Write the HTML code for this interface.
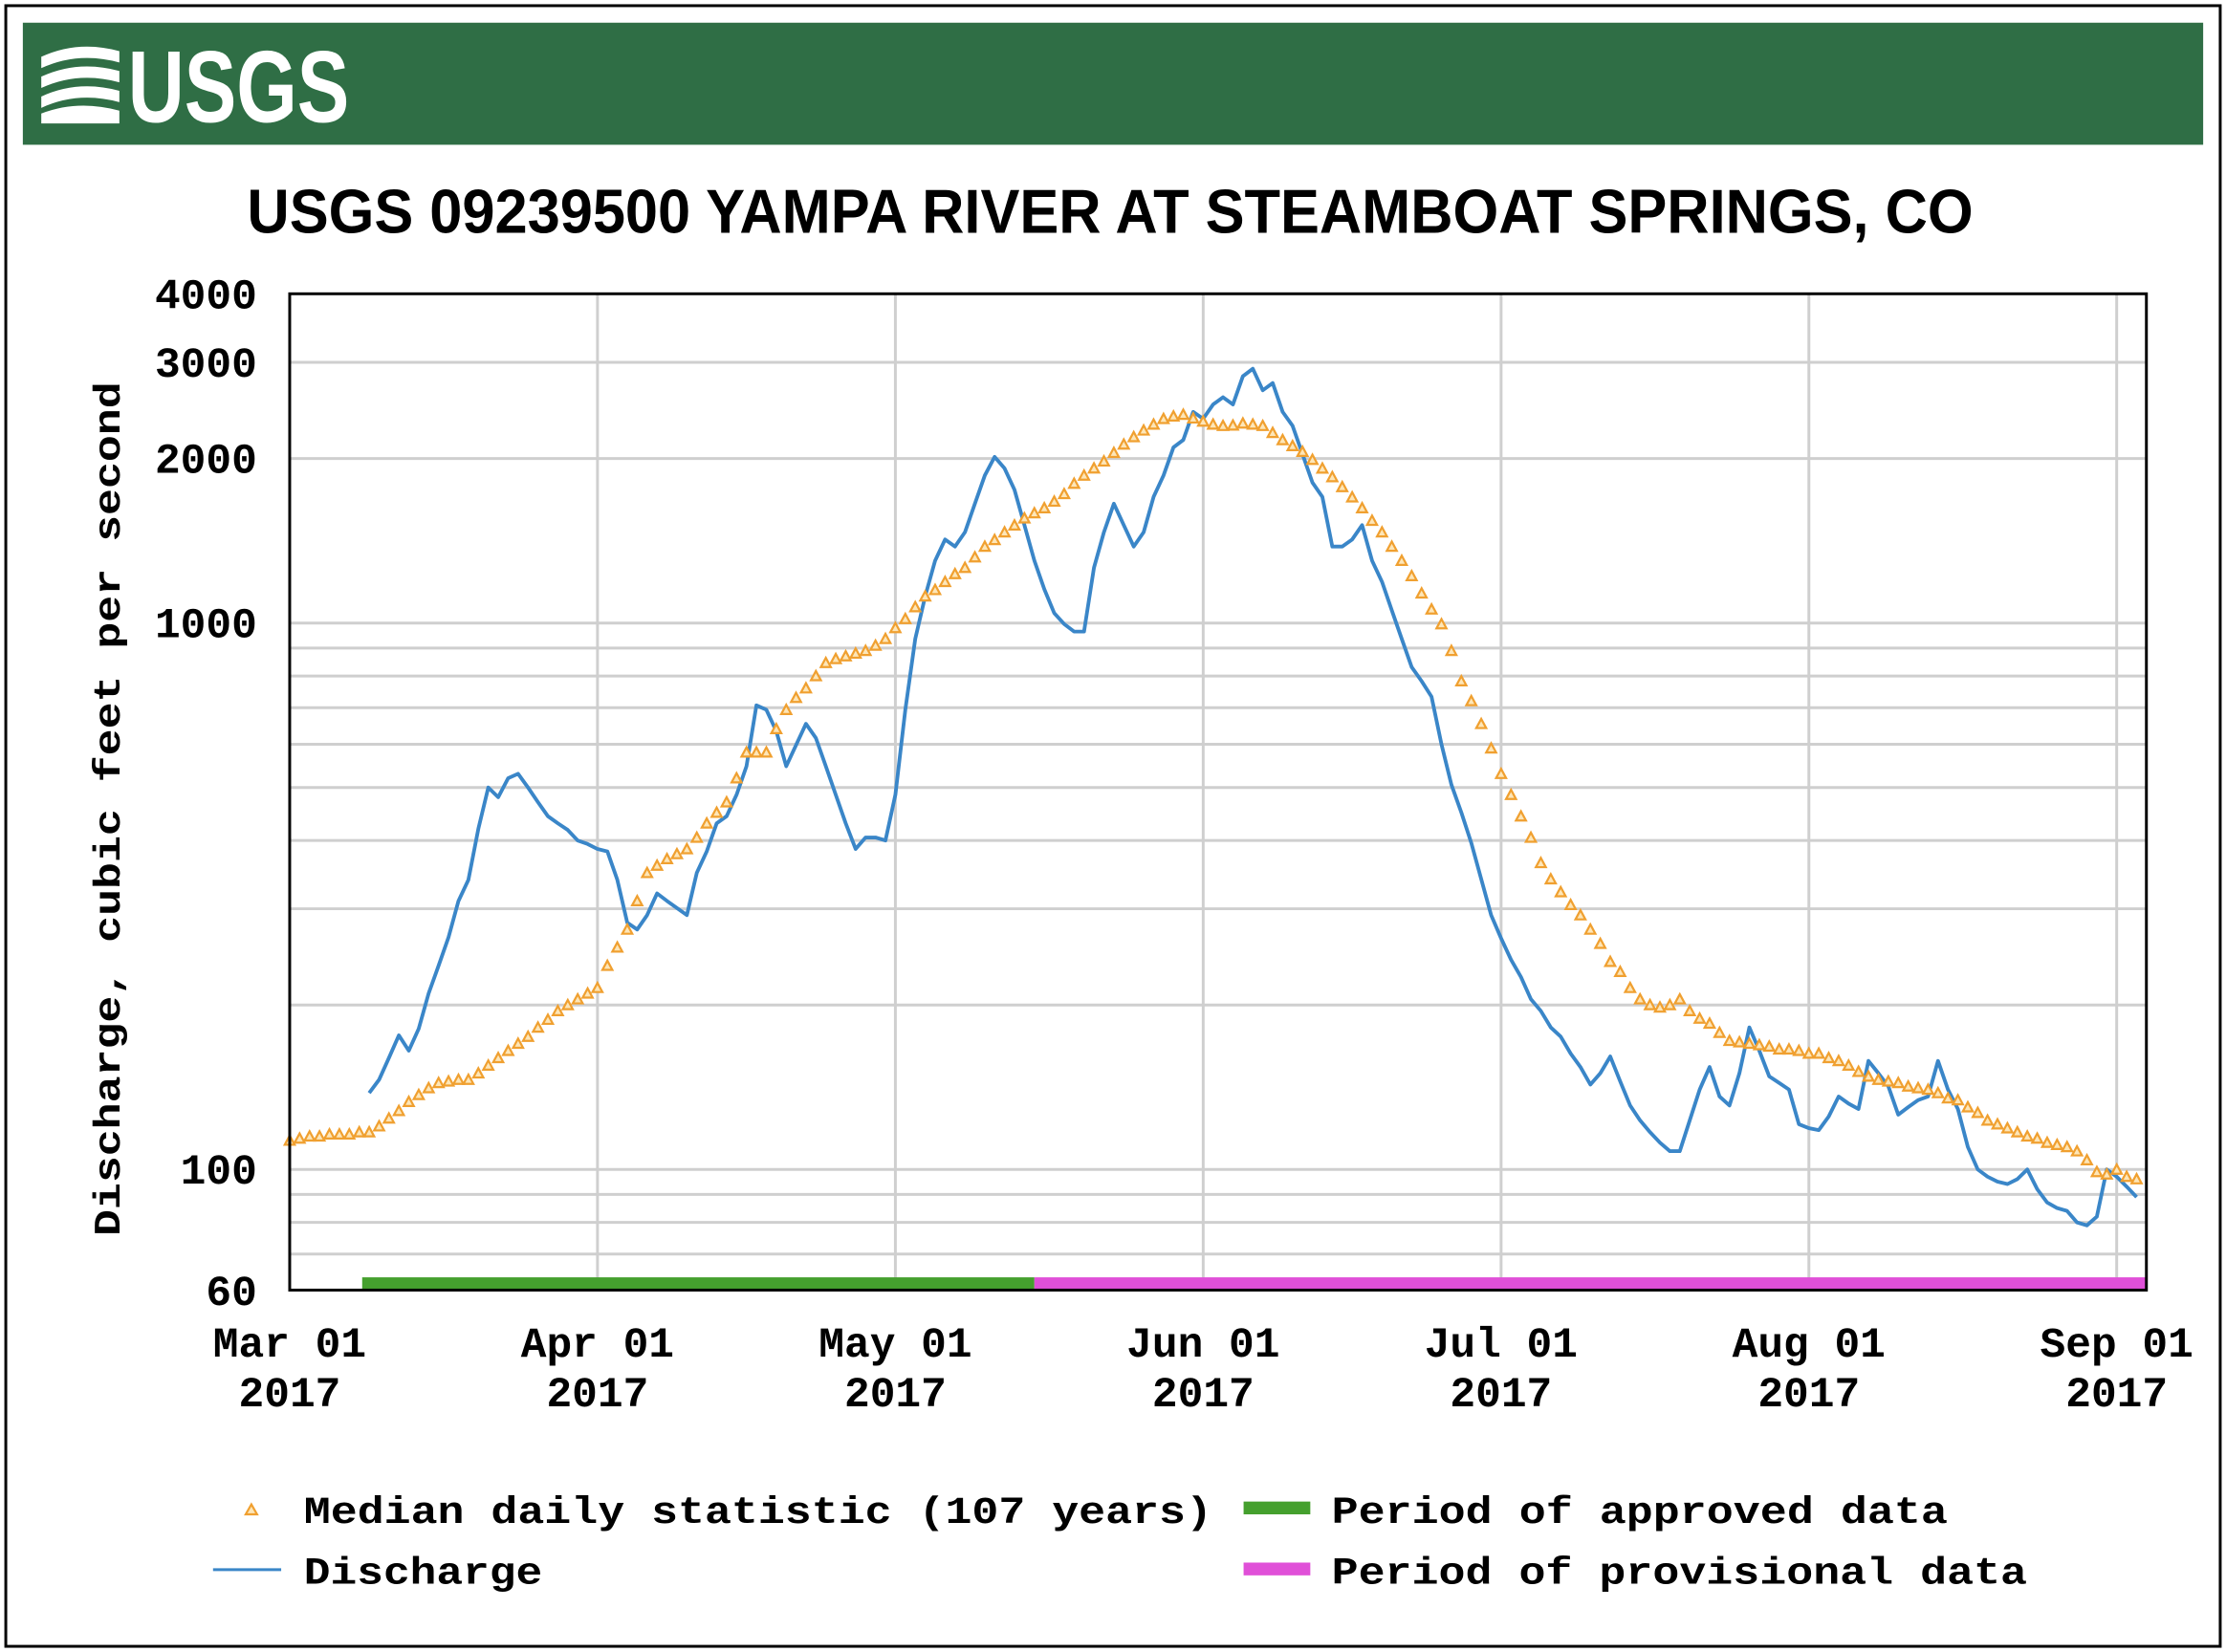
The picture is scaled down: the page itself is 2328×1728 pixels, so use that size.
<!DOCTYPE html>
<html><head><meta charset="utf-8"><title>USGS 09239500 Yampa River</title>
<style>html,body{margin:0;padding:0;background:#fff}svg{display:block}</style></head>
<body>
<svg id="chart" xmlns="http://www.w3.org/2000/svg" width="2328" height="1728" viewBox="0 0 1568 1164">
<rect x="4" y="4" width="1560" height="1156" fill="#fff" stroke="#000" stroke-width="2"/>
<rect x="16" y="16" width="1536" height="86" fill="#2f6e45"/>
<g>
<path d="M29 40 Q55 28 84 36 L84 44 Q55 36 29 48 Z M29 54 Q55 42 84 50 L84 58 Q55 50 29 62 Z M29 68 Q55 56 84 64 L84 72 Q55 64 29 76 Z M29 80 Q55 70 84 78 L84 87 L29 87 Z" fill="#fff"/>
<text x="90" y="86" font-family="Liberation Sans, sans-serif" font-weight="bold" font-size="72" fill="#fff" textLength="156" lengthAdjust="spacingAndGlyphs">USGS</text>
</g>
<text x="174" y="164" font-family="Liberation Sans, sans-serif" font-weight="bold" font-size="44" fill="#000" textLength="1216" lengthAdjust="spacingAndGlyphs">USGS 09239500 YAMPA RIVER AT STEAMBOAT SPRINGS, CO</text>
<g id="grid"></g>
<g id="bars"></g>
<g id="series"></g>
<rect x="204" y="207" width="1308" height="702" fill="none" stroke="#000" stroke-width="2"/>
<g id="axes"></g>
<text transform="translate(84,570) rotate(-90)" text-anchor="middle" font-family="Liberation Mono, monospace" font-weight="bold" font-size="26" fill="#000" textLength="602" lengthAdjust="spacingAndGlyphs">Discharge, cubic feet per second</text>
<g font-family="Liberation Mono, monospace" font-weight="bold" font-size="27" fill="#000">
<path d="M173 1067 L177 1060 L181 1067 Z" fill="#fde6b8" stroke="#f0a030" stroke-width="1.5"/>
<text x="214" y="1073" textLength="640" lengthAdjust="spacingAndGlyphs">Median daily statistic (107 years)</text>
<line x1="150" y1="1106" x2="198" y2="1106" stroke="#3a86c8" stroke-width="2"/>
<text x="214" y="1116" textLength="168" lengthAdjust="spacingAndGlyphs">Discharge</text>
<rect x="876" y="1058" width="47" height="9" fill="#45a02e"/>
<text x="938" y="1073" textLength="434" lengthAdjust="spacingAndGlyphs">Period of approved data</text>
<rect x="876" y="1101" width="47" height="9" fill="#e050d8"/>
<text x="938" y="1116" textLength="490" lengthAdjust="spacingAndGlyphs">Period of provisional data</text>
</g>
</svg>
<script>
const yTicks = [4000, 3000, 2000, 1000, 100, 60];
const yGrid = [70, 80, 90, 100, 200, 300, 400, 500, 600, 700, 800, 900, 1000, 2000, 3000];
const monthDays = [0, 31, 61, 92, 122, 153, 184];
const monthLabels = ["Mar 01", "Apr 01", "May 01", "Jun 01", "Jul 01", "Aug 01", "Sep 01"];
const yearLabel = "2017";
const approvedPeriod = [7.3, 75];
const provisionalPeriod = [75, 187];
const medianStartDay = 0;
const medianValues = [
113,114,115,115,116,116,116,117,117,
120,124,128,133,137,141,144,
145,146,146,150,155,160,
165,170,175,182,188,195,
200,205,210,215,236,255,
275,310,349,360,370,378,
386,405,430,450,470,520,
580,580,580,640,694,730,
760,800,846,860,870,880,
890,910,936,980,1018,1070,
1120,1150,1190,1230,1263,1320,
1380,1420,1466,1510,1556,1590,
1623,1670,1723,1800,1863,1920,
1977,2050,2123,2190,2253,2310,
2365,2390,2408,2370,2339,2310,
2297,2300,2320,2310,2297,2230,
2163,2110,2060,1990,1919,1850,
1775,1700,1623,1540,1466,1380,
1301,1220,1134,1060,996,890,
783,720,654,590,530,485,
443,405,364,340,322,305,
292,275,259,240,230,215,
205,200,198,200,205,195,
189,185,178,172,171,170,
169,168,166,166,165,163,
163,160,158,155,151,148,
146,145,144,142,141,140,
138,135,134,130,127,123,
121,119,117,115,114,112,
111,110,108,104,99,98,
100,97,96];
const dischargeStartDay = 8;
const dischargeValues = [
138,146,160,176,165,181,
210,236,266,310,339,420,
500,480,520,530,500,470,
443,430,418,400,394,386,
382,339,283,275,292,320,
310,301,292,349,382,430,
443,485,547,707,694,634,
547,598,654,616,547,485,
430,386,405,405,400,485,
694,936,1120,1301,1422,1380,
1466,1654,1863,2014,1919,1753,
1511,1301,1154,1043,996,965,
965,1263,1466,1654,1511,1380,
1466,1702,1863,2097,2163,2435,
2365,2512,2590,2512,2830,2920,
2667,2750,2435,2297,2038,1808,
1702,1380,1380,1422,1511,1301,
1190,1055,936,831,783,733,
600,506,450,396,340,292,
265,242,225,205,195,182,
175,163,154,143,150,161,
145,131,123,117,112,108,
108,123,140,154,136,131,
150,182,165,148,144,140,
121,119,118,125,136,132,
129,158,150,142,126,130,
134,136,158,140,129,110,
100,97,95,94,96,100,
92,87,85,84,80,79,
82,100,97,93,89];

const NS = "http://www.w3.org/2000/svg";
const X0 = 204, X1 = 1512, PX_PER_DAY = 6.995;
const Y1000 = 439, PX_PER_DECADE = 385;
function xScale(day){ return X0 + day * PX_PER_DAY; }
function yScale(v){ return Y1000 - PX_PER_DECADE * Math.log10(v / 1000); }
function mk(tag, attrs, parent){
  const el = document.createElementNS(NS, tag);
  for (const k in attrs) el.setAttribute(k, attrs[k]);
  parent.appendChild(el);
  return el;
}
const grid = document.getElementById('grid');
const axes = document.getElementById('axes');
const bars = document.getElementById('bars');
const series = document.getElementById('series');

yGrid.forEach(v => {
  const y = yScale(v);
  const l = mk('line', {x1: X0, x2: X1, y1: y, y2: y, stroke: '#cfcfcf', 'stroke-width': 2}, grid);
  
  
});
monthDays.forEach(d => {
  const x = xScale(d);
  if (d === 0) return;
  const l = mk('line', {x1: x, x2: x, y1: 207, y2: 909, stroke: '#cfcfcf', 'stroke-width': 2}, grid);
  
  
});
yTicks.forEach(v => {
  const t = mk('text', {x: 181, y: yScale(v) + 10, 'text-anchor': 'end', 'font-family': 'Liberation Mono, monospace', 'font-weight': 'bold', 'font-size': 30, fill: '#000'}, axes);
  t.textContent = String(v);
  
  
});
monthDays.forEach((d, i) => {
  const x = xScale(d);
  const t1 = mk('text', {x: x, y: 956, 'text-anchor': 'middle', 'font-family': 'Liberation Mono, monospace', 'font-weight': 'bold', 'font-size': 30, fill: '#000'}, axes);
  t1.textContent = monthLabels[i];
  
  
  const t2 = mk('text', {x: x, y: 991, 'text-anchor': 'middle', 'font-family': 'Liberation Mono, monospace', 'font-weight': 'bold', 'font-size': 30, fill: '#000'}, axes);
  t2.textContent = yearLabel;
  
  
});
const ab = mk('rect', {x: xScale(approvedPeriod[0]), y: 900, width: xScale(approvedPeriod[1]) - xScale(approvedPeriod[0]), height: 9, fill: '#45a02e'}, bars);


const pb = mk('rect', {x: xScale(provisionalPeriod[0]), y: 900, width: Math.min(X1, xScale(provisionalPeriod[1])) - xScale(provisionalPeriod[0]), height: 9, fill: '#e050d8'}, bars);



let dPath = '';
dischargeValues.forEach((v, i) => {
  const x = xScale(dischargeStartDay + i), y = yScale(v);
  dPath += (i === 0 ? 'M' : 'L') + x.toFixed(1) + ' ' + y.toFixed(1) + ' ';
});
const dl = mk('path', {d: dPath, fill: 'none', stroke: '#3a86c8', 'stroke-width': 2.6, 'stroke-linejoin': 'round'}, series);



medianValues.forEach((v, i) => {
  const x = xScale(medianStartDay + i), y = yScale(v);
  const m = mk('path', {d: `M${(x-3.5).toFixed(1)} ${(y+3).toFixed(1)} L${x.toFixed(1)} ${(y-3.5).toFixed(1)} L${(x+3.5).toFixed(1)} ${(y+3).toFixed(1)} Z`, fill: '#fde6b8', stroke: '#f0a030', 'stroke-width': 1.5}, series);
  
  
});
</script>
</body></html>
